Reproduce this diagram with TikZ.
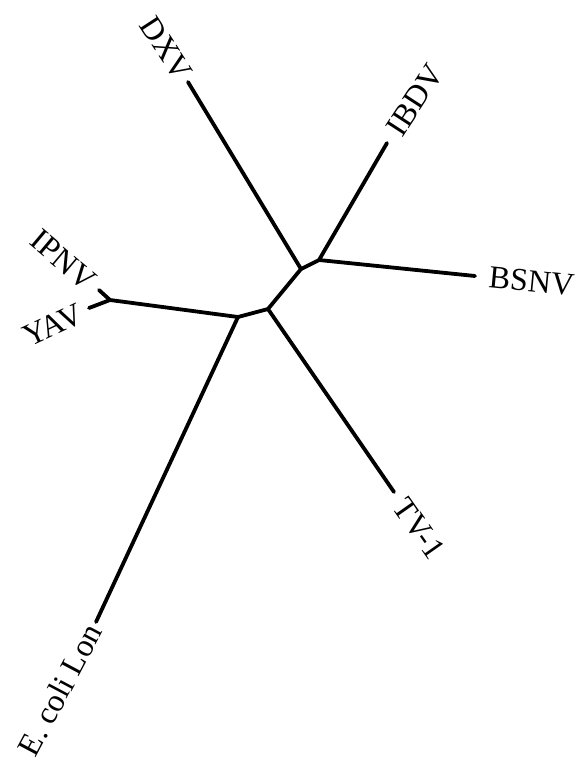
\documentclass[tikz,border=0pt]{standalone}
\usepackage{fontspec}
\setmainfont{Liberation Serif}
\begin{document}
\begin{tikzpicture}[x=1pt,y=-1pt,
  branch/.style={line width=3.8pt,line cap=round,line join=round},
  taxon/.style={font=\fontsize{32}{38}\selectfont,inner sep=5pt}]
\useasboundingbox (0,0) rectangle (577,766);
% internal nodes
\coordinate (nA) at (301,269);
\coordinate (nB) at (319,260);
\coordinate (nC) at (268,309);
\coordinate (nD) at (238,317);
\coordinate (nF) at (110,300);
% tips
\coordinate (tDXV) at (188,82);
\coordinate (tIBDV) at (387,143);
\coordinate (tBSNV) at (475,276);
\coordinate (tTV) at (394,492);
\coordinate (tEco) at (96,622);
\coordinate (tIPNV) at (99,290);
\coordinate (tYAV) at (89,308);
% branches
\draw[branch] (tDXV) -- (nA) -- (nB) -- (tIBDV);
\draw[branch] (nB) -- (tBSNV);
\draw[branch] (nA) -- (nC) -- (tTV);
\draw[branch] (nC) -- (nD) -- (tEco);
\draw[branch] (nD) -- (nF) -- (tIPNV);
\draw[branch] (nF) -- (tYAV);
% labels
\node[taxon,anchor=east,rotate=-57] (lDXV) at (tDXV) {DXV};
\node[taxon,anchor=west,rotate=57,inner sep=12pt] (lIBDV) at (tIBDV) {IBDV};
\node[taxon,anchor=west,rotate=-5.5,inner sep=14pt] (lBSNV) at (tBSNV) {BSNV};
\node[taxon,anchor=west,rotate=-55,inner sep=11pt] (lTV) at (tTV) {TV-1};
\node[taxon,anchor=east,rotate=62] (lEco) at (tEco) {E. coli Lon};
\node[taxon,anchor=east,rotate=-40,inner sep=9pt] (lIPNV) at (tIPNV) {IPNV};
\node[taxon,anchor=east,rotate=25,inner sep=9pt] (lYAV) at (tYAV) {YAV};
\end{tikzpicture}
\end{document}
